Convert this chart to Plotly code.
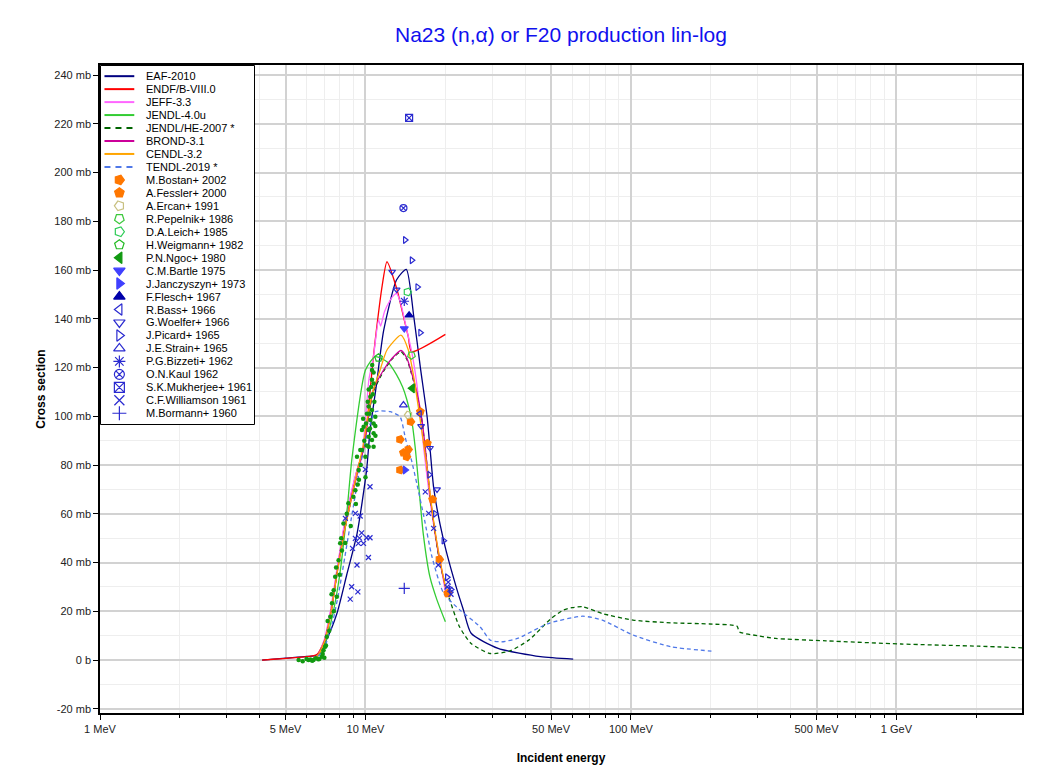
import plotly.graph_objects as go

# ---------------- evaluated data (E in MeV, cross section in mb) ----------------
eaf_E = [4.08, 5.0, 6.0, 6.56, 7.1, 7.8, 8.5, 9.3, 10.1, 10.4, 11.0, 11.7, 13.1, 14.25, 15.2, 16.1,
         17.06, 17.5, 18.1, 19.7, 22.1, 23.4, 25.0, 31.6, 45.6, 60.6]
eaf_s = [0.0, 0.8, 1.5, 2.0, 8.0, 19.0, 35.0, 52.0, 78.0, 94.0, 113.0, 135.0, 156.0, 160.3, 141.0, 120.0,
         100.0, 87.0, 70.0, 49.0, 29.0, 20.5, 11.0, 4.8, 1.4, 0.4]

endf_E = [4.08, 6.4, 6.6, 7.0, 7.4, 7.8, 8.3, 8.8, 9.3, 9.8, 10.0, 10.4, 10.7, 11.04, 11.5, 12.05,
          13.1, 13.9, 14.5, 14.9, 20.0]
endf_s = [0.0, 1.8, 2.5, 8.0, 20.0, 36.0, 54.0, 67.0, 78.0, 86.0, 91.0, 110.0, 124.0, 137.0, 152.0, 163.4,
          152.5, 141.0, 132.6, 126.5, 133.6]

jeff_E = [6.2, 6.6, 7.0, 7.4, 7.8, 8.3, 8.8, 9.3, 9.7, 10.3, 10.7, 11.2, 11.4, 11.8, 12.4, 12.8, 13.1,
          13.6, 14.2, 14.9, 15.6, 16.1, 16.6, 17.5, 18.3, 19.1, 20.0]
jeff_s = [0.0, 2.0, 8.5, 21.0, 37.0, 55.0, 68.0, 78.0, 84.0, 115.0, 124.0, 139.5, 137.0, 143.0, 147.7, 149.7, 150.4,
          146.0, 137.0, 127.0, 113.5, 100.0, 86.2, 65.6, 52.0, 41.0, 28.0]

jendl4_E = [6.2, 6.6, 7.0, 7.5, 8.0, 8.5, 8.9, 10.0, 10.9, 12.2, 13.1, 13.8, 14.3, 14.9, 15.4, 15.8,
            16.5, 17.5, 18.6, 20.0]
jendl4_s = [0.0, 1.5, 6.0, 18.0, 35.0, 60.0, 83.0, 119.0, 124.5, 122.0, 117.0, 112.0, 107.0, 99.0, 87.0, 74.0,
            52.0, 34.0, 24.6, 15.7]

jendlhe_E = [6.2, 6.6, 7.0, 7.4, 7.8, 8.3, 8.8, 9.3, 9.8, 10.2, 10.7, 11.7, 12.6, 13.6, 14.3, 14.9, 15.6,
             16.3, 16.8, 17.5, 18.3, 19.1, 20.4, 22.6, 25.0, 29.5, 34.9, 41.2, 50.1, 55.7, 60.0, 65.8, 78.0,
             101.8, 141.0, 198.0, 251.0, 256.0, 300.0, 350.0, 543.0, 1040.0, 2040.0, 3050.0]
jendlhe_s = [0.0, 1.8, 7.5, 19.0, 35.0, 52.0, 65.0, 76.0, 86.0, 98.0, 110.0, 118.5, 123.5, 126.5, 123.5, 117.5, 109.5,
             98.5, 86.5, 67.5, 51.5, 39.5, 27.4, 13.7, 6.8, 2.7, 3.7, 8.2, 17.1, 20.5, 21.5, 21.9, 19.1,
             16.4, 15.3, 14.8, 13.9, 11.6, 10.0, 8.9, 7.9, 6.6, 5.7, 5.0]

brond_E = [6.2, 6.6, 7.0, 7.4, 7.8, 8.3, 8.8, 9.3, 9.8, 10.2, 10.7, 11.7, 12.6, 13.6, 14.3, 14.9, 15.6,
           16.3, 16.8, 17.5, 18.3, 19.1, 20.0]
brond_s = [0.0, 1.8, 7.5, 19.0, 35.0, 52.0, 65.0, 76.0, 86.0, 98.0, 110.8, 119.0, 123.8, 127.0, 124.0, 118.0, 110.0,
           99.0, 87.0, 68.0, 52.0, 40.0, 30.0]

cendl_E = [6.2, 6.6, 7.0, 7.4, 7.8, 8.3, 8.8, 9.3, 9.8, 10.2, 10.7, 11.35, 12.05, 13.6, 14.5, 15.2, 16.0,
           17.0, 18.0, 19.0, 20.0]
cendl_s = [0.0, 1.8, 7.5, 19.0, 35.0, 52.0, 65.0, 77.0, 88.0, 100.0, 110.8, 119.0, 127.2, 133.3, 127.2, 116.2, 100.0,
           80.0, 58.0, 42.0, 30.0]

tendl_E = [6.3, 6.7, 7.0, 7.5, 8.0, 8.5, 9.0, 9.5, 10.0, 10.5, 10.9, 12.4, 13.5, 14.1, 14.5, 14.9, 15.6,
           16.6, 17.8, 19.7, 22.7, 27.0, 29.5, 32.5, 37.4, 48.8, 65.8, 78.0, 101.8, 141.0, 201.0]
tendl_s = [0.0, 2.0, 5.0, 15.0, 30.0, 47.0, 63.0, 78.0, 90.0, 98.0, 101.9, 101.9, 99.8, 91.6, 86.2, 82.0, 72.5,
           58.8, 42.4, 27.4, 20.5, 13.7, 8.2, 7.5, 8.9, 15.0, 18.0, 16.4, 10.3, 5.5, 3.7]

# ---------------- experimental data ----------------
bostan_E = [13.5, 13.5, 14.3, 14.5, 14.8, 19.0]
bostan_s = [90.5, 78.0, 83.4, 86.4, 97.8, 41.3]
fessler_E = [13.9, 16.1, 17.1, 17.9, 20.4]
fessler_s = [85.1, 101.9, 88.9, 65.9, 27.4]
ercan_E = [14.5]
ercan_s = [100.5]
pepelnik_E = [14.9]
pepelnik_s = [125.0]
leich_E = [14.4]
leich_s = [151.0]
weigmann_E = [11.2]
weigmann_s = [124.0]
ngoc_E = [15.0]
ngoc_s = [111.5]
ngoc_dots_E = [5.6, 5.8, 6.0, 6.1, 6.2, 6.3, 6.37, 6.5, 6.64, 6.7, 6.85, 6.9, 7.0, 7.05, 7.1, 7.15, 7.3,
               7.37, 7.48, 7.59, 7.6, 7.69, 7.8, 7.92, 8.0, 8.03, 8.15, 8.26, 8.4, 8.62, 8.8, 9.16, 9.2,
               9.29, 9.43, 9.56, 9.7, 9.7, 9.84, 9.99, 10.0, 10.13, 10.28, 10.28, 10.28, 10.28, 10.28,
               10.43, 10.43, 10.58, 10.58, 10.58, 10.58, 10.73, 10.73, 10.73, 10.73, 10.73, 10.89, 10.89,
               9.9, 10.05, 10.2, 10.35, 10.5, 10.65, 10.8, 9.6, 9.45, 9.0, 8.5, 8.1, 7.75, 7.45, 7.2, 6.95,
               10.1, 10.4, 10.6, 10.9, 9.8, 9.35]
ngoc_dots_s = [0.0, -0.5, 0.5, 0.0, 0.2, -0.3, 0.0, 0.8, 0.3, 0.5, 1.4, 2.5, 1.0, 5.5, 6.0, 9.6, 12.0,
               17.8, 23.3, 28.7, 20.0, 34.2, 26.0, 41.0, 35.0, 47.9, 45.0, 56.0, 48.0, 64.3, 55.0, 69.7, 64.0,
               83.4, 78.0, 86.2, 86.2, 94.4, 95.7, 83.4, 75.0, 101.0, 94.4, 91.6, 111.0, 104.0, 87.5,
               98.5, 108.0, 90.3, 115.0, 102.6, 119.0, 118.0, 97.0, 93.0, 87.5, 113.5, 99.8, 96.0,
               90.0, 97.0, 106.0, 101.0, 112.0, 109.0, 106.0, 80.0, 74.0, 67.0, 60.0, 50.0, 38.0, 27.0, 16.0, 4.0,
               88.0, 95.0, 121.0, 92.0, 99.0, 72.0]
bartle_E = [14.0]
bartle_s = [136.0]
janczyszyn_E = [14.1]
janczyszyn_s = [78.0]
flesch_E = [14.6]
flesch_s = [141.5]
bass_E = [16.0]
bass_s = [101.0]
woelfer_E = [12.6, 13.1, 16.2, 17.5, 18.6]
woelfer_s = [159.3, 152.0, 96.0, 87.0, 70.0]
picard_E = [14.1, 14.95, 15.7, 16.1, 17.4, 18.3, 19.7, 20.3, 21.0]
picard_s = [172.3, 164.0, 153.0, 134.3, 76.0, 60.0, 49.0, 34.0, 29.0]
strain_E = [13.9]
strain_s = [104.6]
bizzeti_E = [14.0]
bizzeti_s = [147.2]
kaul_E = [13.9]
kaul_s = [185.4]
mukherjee_E = [14.6]
mukherjee_s = [222.4]
williamson_E = [9.99, 10.4, 9.16, 9.55, 8.4, 9.67, 9.16, 9.5, 10.1, 10.4, 9.4, 9.83, 8.94, 10.26, 9.29,
                8.87, 9.36, 8.76, 16.8, 17.3, 18.06, 18.8, 20.3, 20.5, 20.8, 21.0]
williamson_s = [78.2, 71.1, 60.2, 59.1, 58.1, 52.2, 49.9, 50.0, 50.2, 50.2, 47.9, 47.9, 45.8, 42.1, 39.0,
                30.1, 28.0, 25.0, 69.0, 60.2, 54.0, 39.0, 30.0, 32.0, 29.0, 27.0]
bormann_E = [14.0]
bormann_s = [29.4]

# axis ticks
x_tickvals = [1, 5, 10, 50, 100, 500, 1000]
x_ticktext = ["1 MeV", "5 MeV", "10 MeV", "50 MeV", "100 MeV", "500 MeV", "1 GeV"]
x_minor = [2, 3, 4, 6, 7, 8, 9, 20, 30, 40, 60, 70, 80, 90, 200, 300, 400, 600, 700, 800, 900, 2000, 3000]
y_tickvals = [-20, 0, 20, 40, 60, 80, 100, 120, 140, 160, 180, 200, 220, 240]
y_ticktext = ["-20 mb", "0 b", "20 mb", "40 mb", "60 mb", "80 mb", "100 mb", "120 mb", "140 mb",
              "160 mb", "180 mb", "200 mb", "220 mb", "240 mb"]

# ---------------- styles ----------------
FONT = "Liberation Sans, Arial, sans-serif"
lines = [
    ("EAF-2010", eaf_E, eaf_s, "#000080", "solid"),
    ("ENDF/B-VIII.0", endf_E, endf_s, "#ff0000", "solid"),
    ("JEFF-3.3", jeff_E, jeff_s, "#ff66ff", "solid"),
    ("JENDL-4.0u", jendl4_E, jendl4_s, "#33cc33", "solid"),
    ("JENDL/HE-2007 *", jendlhe_E, jendlhe_s, "#006400", "4px,3px"),
    ("BROND-3.1", brond_E, brond_s, "#cc0099", "solid"),
    ("CENDL-3.2", cendl_E, cendl_s, "#ffa500", "solid"),
    ("TENDL-2019 *", tendl_E, tendl_s, "#4f78e8", "4px,3px"),
]

ORANGE = "#ff7700"
BLUE = "#2a2ad0"
# name, E, sigma, symbol, angle, colour, data-marker size
exps = [
    ("M.Bostan+ 2002", bostan_E, bostan_s, "pentagon", 90, ORANGE, 8),
    ("A.Fessler+ 2000", fessler_E, fessler_s, "pentagon", 0, ORANGE, 8),
    ("A.Ercan+ 1991", ercan_E, ercan_s, "pentagon-open", 270, "#c8c080", 8),
    ("R.Pepelnik+ 1986", pepelnik_E, pepelnik_s, "pentagon-open", 180, "#3cc83c", 8),
    ("D.A.Leich+ 1985", leich_E, leich_s, "pentagon-open", 90, "#2ccc55", 8),
    ("H.Weigmann+ 1982", weigmann_E, weigmann_s, "pentagon-open", 0, "#22bb22", 8),
    ("P.N.Ngoc+ 1980", ngoc_E, ngoc_s, "triangle-left", 0, "#119911", 8),
    ("C.M.Bartle 1975", bartle_E, bartle_s, "triangle-down", 0, "#4040ff", 7),
    ("J.Janczyszyn+ 1973", janczyszyn_E, janczyszyn_s, "triangle-right", 0, "#4040ff", 7),
    ("F.Flesch+ 1967", flesch_E, flesch_s, "triangle-up", 0, "#0000aa", 7),
    ("R.Bass+ 1966", bass_E, bass_s, "triangle-left-open", 0, BLUE, 6),
    ("G.Woelfer+ 1966", woelfer_E, woelfer_s, "triangle-down-open", 0, BLUE, 6),
    ("J.Picard+ 1965", picard_E, picard_s, "triangle-right-open", 0, BLUE, 6),
    ("J.E.Strain+ 1965", strain_E, strain_s, "triangle-up-open", 0, BLUE, 7),
    ("P.G.Bizzeti+ 1962", bizzeti_E, bizzeti_s, "asterisk-open", 0, BLUE, 8),
    ("O.N.Kaul 1962", kaul_E, kaul_s, "circle-x-open", 0, BLUE, 7),
    ("S.K.Mukherjee+ 1961", mukherjee_E, mukherjee_s, "square-x-open", 0, BLUE, 7),
    ("C.F.Williamson 1961", williamson_E, williamson_s, "x-thin-open", 0, BLUE, 5),
    ("M.Bormann+ 1960", bormann_E, bormann_s, "cross-thin-open", 0, BLUE, 8),
]

fig = go.Figure()

for name, E, s, color, dash in lines:
    fig.add_trace(go.Scatter(x=E, y=s, mode="lines", name=name,
                             line=dict(color=color, width=1.3, dash=dash, shape="spline", smoothing=0.6),
                             showlegend=False, hoverinfo="skip"))

# small dots of the Ngoc dataset
fig.add_trace(go.Scatter(x=ngoc_dots_E, y=ngoc_dots_s, mode="markers", name="P.N.Ngoc+ 1980",
                         marker=dict(symbol="circle", size=4.5, color="#119911",
                                     line=dict(width=0)),
                         showlegend=False, hoverinfo="skip"))

for name, E, s, sym, ang, color, msize in exps:
    fig.add_trace(go.Scatter(x=E, y=s, mode="markers", name=name,
                             marker=dict(symbol=sym, size=msize, angle=ang, color=color,
                                         line=dict(width=1.2, color=color)),
                             showlegend=False, hoverinfo="skip"))

# ---------------- layout geometry (page pixels; the html body adds an 8 px offset) ----------------
OFF = 8
W, H = 1053 - 2 * OFF, 774 - 2 * OFF
PLOT_L, PLOT_R, PLOT_T, PLOT_B = 100 - OFF, 1022 - OFF, 65 - OFF, 713 - OFF
LEG_W, LEG_H = 155, 360
row0, rowstep = 10.7, 13.0
pw, ph = PLOT_R - PLOT_L, PLOT_B - PLOT_T

# ---------------- hand-made legend on an auxiliary subplot ----------------
fig.add_trace(go.Scatter(x=[0, LEG_W, LEG_W, 0, 0], y=[0, 0, LEG_H, LEG_H, 0], mode="lines",
                         fill="toself", fillcolor="white", line=dict(color="black", width=1),
                         xaxis="x2", yaxis="y2", showlegend=False, hoverinfo="skip"))

names = [l[0] for l in lines] + [e[0] for e in exps]
for i, (name, E, s, color, dash) in enumerate(lines):
    yy = row0 + rowstep * i
    fig.add_trace(go.Scatter(x=[4, 34], y=[yy, yy], mode="lines",
                             line=dict(color=color, width=2, dash="6px,5px" if dash != "solid" else "solid"),
                             xaxis="x2", yaxis="y2", showlegend=False, hoverinfo="skip"))
n_lines = len(lines)
leg_y = [row0 + rowstep * (n_lines + j) for j in range(len(exps))]
fig.add_trace(go.Scatter(x=[19] * len(exps), y=leg_y, mode="markers",
                         marker=dict(symbol=[e[3] for e in exps], angle=[e[4] for e in exps],
                                     color=[e[5] for e in exps], size=10,
                                     line=dict(width=1.2, color=[e[5] for e in exps])),
                         xaxis="x2", yaxis="y2", showlegend=False, hoverinfo="skip"))
for i, name in enumerate(names):
    fig.add_annotation(x=44, y=row0 + rowstep * i, xref="x2", yref="y2", text=name,
                       showarrow=False, xanchor="left", yanchor="middle",
                       font=dict(family=FONT, size=11, color="black"))

fig.update_layout(
    width=W, height=H,
    margin=dict(l=PLOT_L, r=W - PLOT_R, t=PLOT_T, b=H - PLOT_B, autoexpand=False),
    paper_bgcolor="white", plot_bgcolor="white",
    showlegend=False,
    font=dict(family=FONT, size=11, color="#222222"),
    title=dict(text="Na23 (n,α) or F20 production lin-log", x=(PLOT_L + PLOT_R) / 2 / W, xanchor="center",
               y=1 - (35 - OFF) / H, yanchor="middle", yref="container",
               font=dict(family=FONT, size=21, color="#1010ee")),
    xaxis=dict(type="log", range=[0, 3.473], tickvals=x_tickvals, ticktext=x_ticktext,
               showgrid=True, gridcolor="#d2d2d2", gridwidth=1.5,
               ticks="outside", ticklen=5, tickcolor="black",
               showline=True, linecolor="black", linewidth=1.5, mirror=True,
               zeroline=False,
               minor=dict(tickvals=x_minor, showgrid=True, gridcolor="#eeeeee", gridwidth=1,
                          ticks="outside", ticklen=3, tickcolor="black"),
               title=dict(text="<b>Incident energy</b>", font=dict(family=FONT, size=12, color="black"),
                          standoff=20),
               tickfont=dict(family=FONT, size=11, color="#222222")),
    yaxis=dict(range=[-21.7, 244.1], tickvals=y_tickvals, ticktext=y_ticktext,
               showgrid=True, gridcolor="#d2d2d2", gridwidth=1.5,
               ticks="outside", ticklen=5, tickcolor="black",
               showline=True, linecolor="black", linewidth=1.5, mirror=True,
               zeroline=False,
               minor=dict(dtick=10, tick0=0, showgrid=True, gridcolor="#eeeeee", gridwidth=1,
                          ticks="", ticklen=3),
               title=dict(text="<b>Cross section</b>", font=dict(family=FONT, size=12, color="black"),
                          standoff=6),
               tickfont=dict(family=FONT, size=11, color="#222222")),
    xaxis2=dict(domain=[0, LEG_W / pw], range=[-0.5, LEG_W + 0.5], visible=False, anchor="y2",
                fixedrange=True),
    yaxis2=dict(domain=[1 - LEG_H / ph, 1], range=[LEG_H + 0.5, -0.5], visible=False, anchor="x2",
                fixedrange=True),
)

fig.write_html("out.html")
